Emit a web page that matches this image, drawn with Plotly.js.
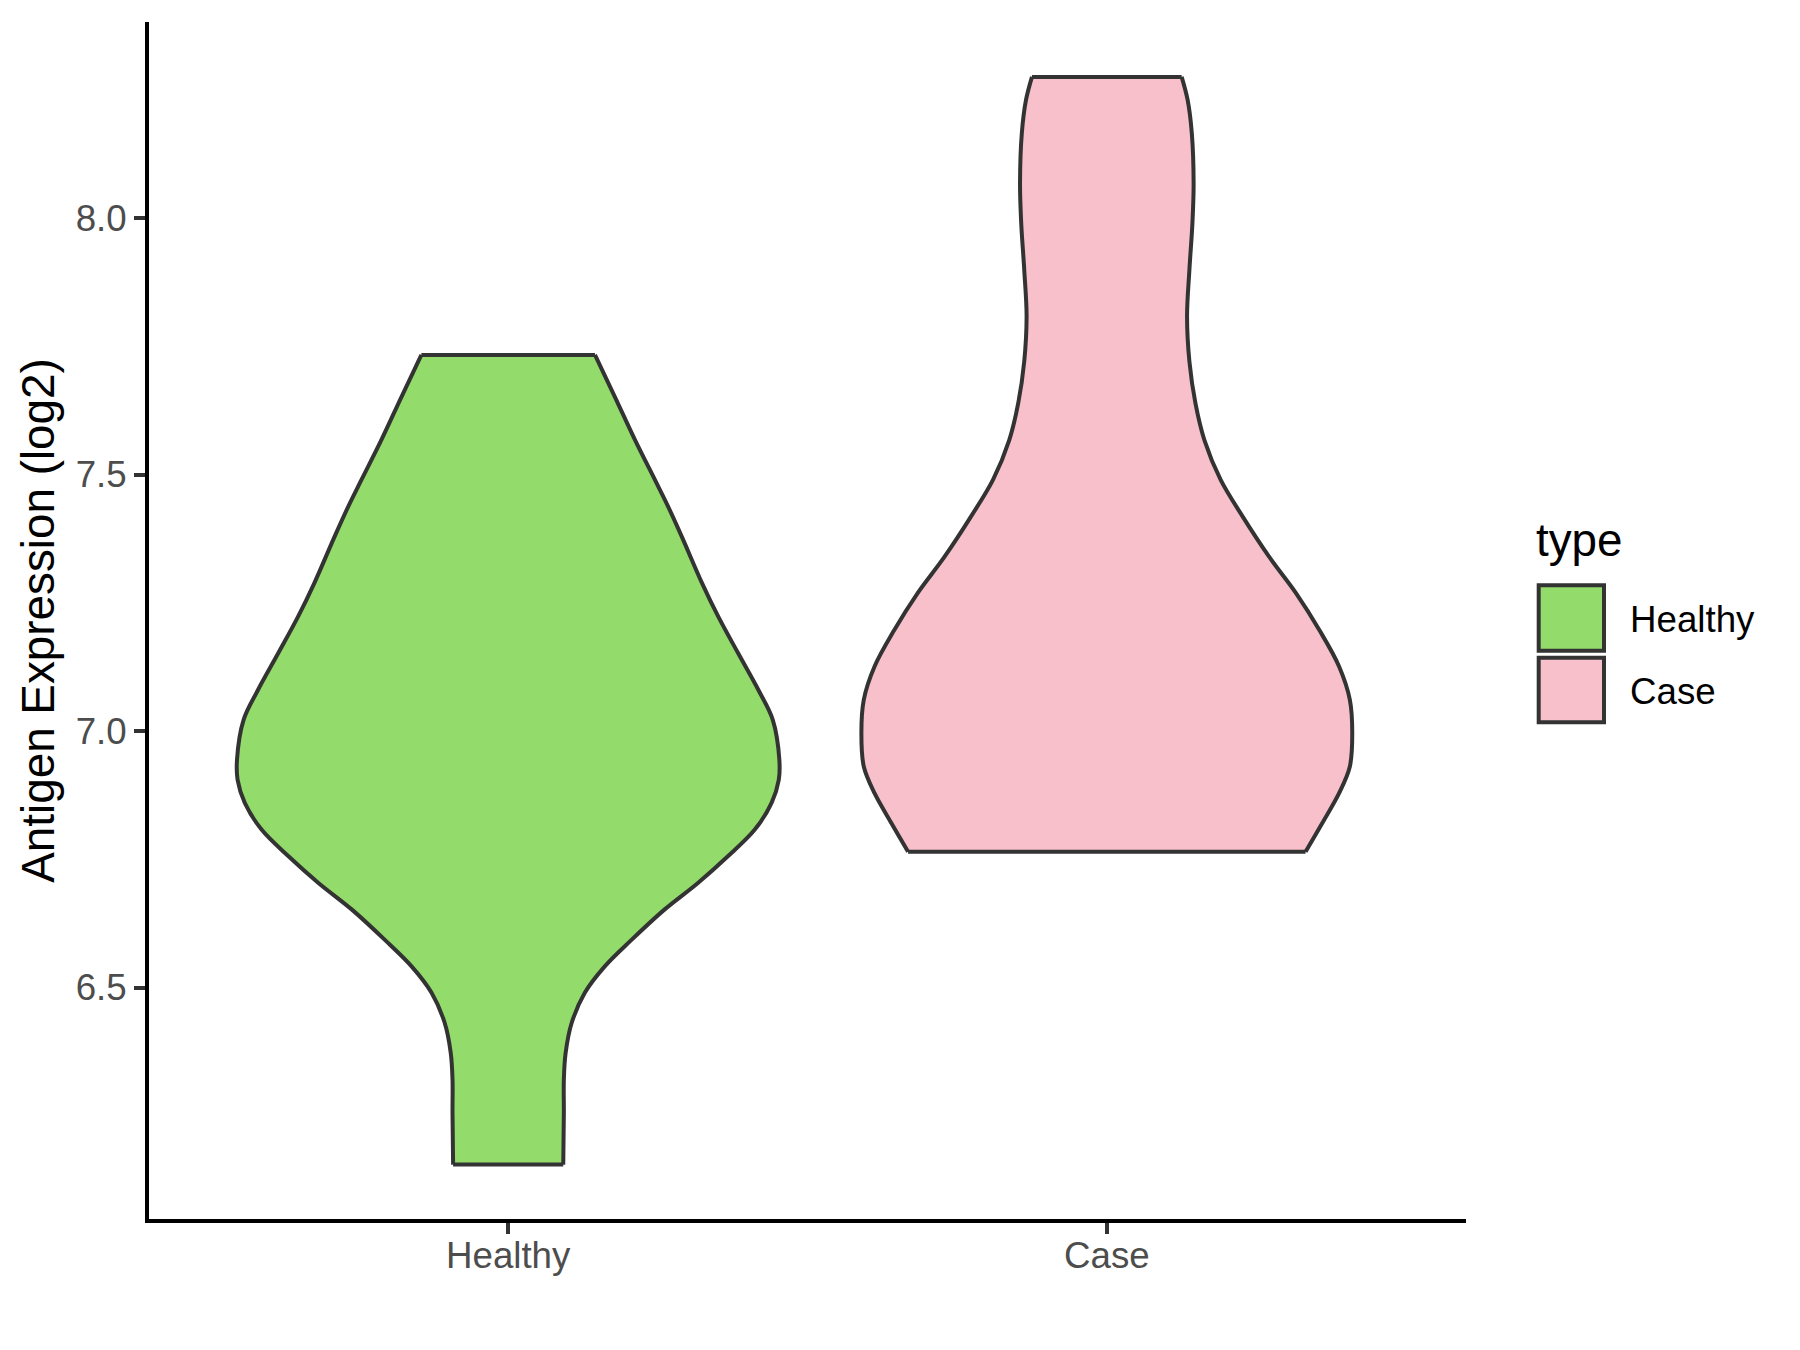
<!DOCTYPE html>
<html>
<head>
<meta charset="utf-8">
<script src="https://cdn.plot.ly/plotly-3.0.1.min.js"></script>
<style>
  html, body { margin: 0; padding: 0; background: #ffffff; }
  #chart { width: 1800px; height: 1350px; }
</style>
</head>
<body>
<div id="chart"></div>
<script>
// ---------------- data ----------------
const categories = ['Healthy', 'Case'];
const fillColors = ['#93DB6A', '#F7C0CB'];

// Violin outlines: expression levels (log2) and half-width of the density at that level (x-axis units)
const healthyLevels    = [6.155, 6.256, 6.321, 6.373, 6.431, 6.490, 6.541, 6.593, 6.652, 6.704, 6.756, 6.808, 6.860,
                          6.905, 6.944, 7.022, 7.080, 7.152, 7.223, 7.288, 7.379, 7.438, 7.490, 7.567, 7.652, 7.733];
const healthyHalfWidth = [0.092, 0.093, 0.093, 0.096, 0.106, 0.128, 0.161, 0.206, 0.261, 0.317, 0.367, 0.412, 0.440,
                          0.452, 0.453, 0.442, 0.418, 0.384, 0.351, 0.324, 0.290, 0.267, 0.245, 0.212, 0.178, 0.145];

const caseLevels    = [6.765, 6.821, 6.879, 6.931, 6.996, 7.061, 7.126, 7.197, 7.269, 7.340, 7.418, 7.490,
                       7.567, 7.639, 7.720, 7.808, 7.900, 7.990, 8.068, 8.165, 8.230, 8.275];
const caseHalfWidth = [0.332, 0.360, 0.388, 0.406, 0.410, 0.406, 0.388, 0.355, 0.316, 0.271, 0.227, 0.190,
                       0.163, 0.148, 0.138, 0.134, 0.138, 0.143, 0.145, 0.142, 0.135, 0.125];

const yTickValues = [6.5, 7.0, 7.5, 8.0];
const yTitle = 'Antigen Expression (log2)';
const legendTitle = 'type';

// ---------------- drawing ----------------
const W = 1800, H = 1350;
const M = { l: 149, r: 334, t: 22, b: 131 };
const plotW = W - M.l - M.r, plotH = H - M.t - M.b;
const px2x = X => (X - M.l) / plotW;
const px2y = Y => 1 - (Y - M.t) / plotH;

const outlineColor = '#333333';
const outlineWidth = 4;
const edgeLine = { color: outlineColor, width: outlineWidth, shape: 'spline', smoothing: 1, simplify: false };

const groups = [
  { name: categories[0], pos: 1, levels: healthyLevels, half: healthyHalfWidth, color: fillColors[0] },
  { name: categories[1], pos: 2, levels: caseLevels,    half: caseHalfWidth,    color: fillColors[1] }
];

const traces = [];
groups.forEach(g => {
  // left edge
  traces.push({
    type: 'scatter', mode: 'lines', name: g.name,
    x: g.half.map(w => g.pos - w), y: g.levels,
    line: edgeLine, showlegend: false, hoverinfo: 'skip'
  });
  // right edge, filled to the left edge
  traces.push({
    type: 'scatter', mode: 'lines', name: g.name,
    x: g.half.map(w => g.pos + w), y: g.levels,
    fill: 'tonextx', fillcolor: g.color,
    line: edgeLine, showlegend: false, hoverinfo: 'skip'
  });
});
// flat trimmed ends of each violin
groups.forEach(g => {
  const n = g.levels.length - 1;
  traces.push({
    type: 'scatter', mode: 'lines', name: g.name,
    x: [g.pos - g.half[0], g.pos + g.half[0], null, g.pos - g.half[n], g.pos + g.half[n]],
    y: [g.levels[0], g.levels[0], null, g.levels[n], g.levels[n]],
    line: { color: outlineColor, width: outlineWidth },
    showlegend: false, hoverinfo: 'skip'
  });
});

// legend drawn like ggplot's (square keys)
const keyX0 = 1538.7, keyX1 = 1604;
const keyRows = [[585.3, 650.7], [657.7, 722.3]];
const shapes = groups.map((g, i) => ({
  type: 'rect', xref: 'paper', yref: 'paper',
  x0: px2x(keyX0), x1: px2x(keyX1), y0: px2y(keyRows[i][1]), y1: px2y(keyRows[i][0]),
  fillcolor: g.color, line: { color: outlineColor, width: 4 }
}));
const annotations = [
  { text: legendTitle, xref: 'paper', yref: 'paper', x: px2x(1534), y: px2y(540.5),
    xanchor: 'left', yanchor: 'middle', showarrow: false, font: { size: 45.8, color: '#000000' } }
].concat(groups.map((g, i) => ({
  text: g.name, xref: 'paper', yref: 'paper', x: px2x(1628), y: px2y((keyRows[i][0] + keyRows[i][1]) / 2 + 1),
  xanchor: 'left', yanchor: 'middle', showarrow: false, font: { size: 36.7, color: '#000000' }
})));

const layout = {
  width: W, height: H,
  margin: { l: M.l, r: M.r, t: M.t, b: M.b, pad: 0, autoexpand: false },
  paper_bgcolor: '#ffffff', plot_bgcolor: '#ffffff',
  font: { family: 'Liberation Sans, Arial, sans-serif', color: '#000000' },
  showlegend: false,
  xaxis: {
    range: [0.4, 2.6], tickvals: [1, 2], ticktext: categories,
    showgrid: false, zeroline: false,
    showline: true, linecolor: '#000000', linewidth: 4,
    ticks: 'outside', ticklen: 11, tickwidth: 4, tickcolor: '#333333',
    ticklabelstandoff: -10,
    tickfont: { size: 36.7, color: '#4D4D4D' }, fixedrange: true
  },
  yaxis: {
    range: [6.049, 8.382], tickvals: yTickValues, ticktext: yTickValues.map(v => v.toFixed(1)),
    showgrid: false, zeroline: false,
    showline: true, linecolor: '#000000', linewidth: 4,
    ticks: 'outside', ticklen: 11, tickwidth: 4, tickcolor: '#333333',
    tickfont: { size: 36.7, color: '#4D4D4D' }, fixedrange: true,
    title: { text: yTitle, font: { size: 45.8, color: '#000000' }, standoff: 8 }
  },
  shapes: shapes,
  annotations: annotations
};

Plotly.newPlot('chart', traces, layout, { staticPlot: true, displayModeBar: false });
</script>
</body>
</html>
